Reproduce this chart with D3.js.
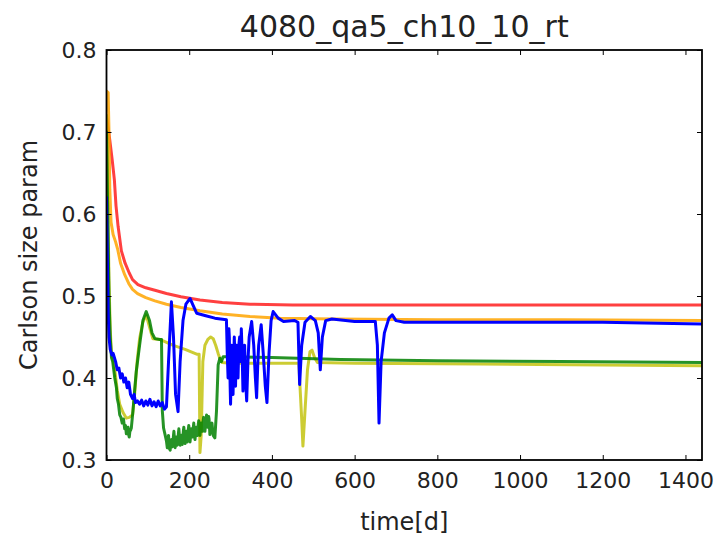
<!DOCTYPE html>
<meta charset="utf-8">
<style>
body { margin: 0; background: #fff; }
svg { display: block; font-family: "DejaVu Sans", sans-serif; }
.axis path, .axis line { fill: none; stroke: #000; }
.series { fill: none; stroke-linejoin: round; stroke-linecap: round; }
</style>
<body>
<script src="https://d3js.org/d3.v7.min.js"></script>
<script>

// chart text and ticks
var title = "4080_qa5_ch10_10_rt";
var xLabel = "time[d]";
var yLabel = "Carlson size param";
var xTicks = [0, 200, 400, 600, 800, 1000, 1200, 1400];
var yTicks = [0.3, 0.4, 0.5, 0.6, 0.7, 0.8];

// series as [day, value]
var redData = [[0,0.72],[8,0.69],[14,0.665],[19,0.642],[23,0.61],[28,0.585],[36,0.555],[45,0.54],[55,0.528],[63,0.52],[76,0.514],[95,0.51],[117,0.507],[145,0.503],[180,0.499],[226,0.495],[280,0.492],[347,0.49],[450,0.489],[700,0.489],[1440,0.489]];

var orangeData = [[0,0.75],[4,0.748],[6,0.70],[8,0.63],[11,0.59],[16,0.575],[22,0.566],[27,0.557],[34,0.54],[44,0.526],[54,0.515],[63,0.508],[75,0.503],[95,0.498],[117,0.494],[145,0.49],[180,0.486],[226,0.482],[280,0.478],[347,0.475],[420,0.473],[550,0.472],[800,0.471],[1100,0.471],[1440,0.47]];

var yellowData = [[0,0.72],[3,0.62],[6,0.52],[9,0.46],[12,0.43],[15,0.424],[20,0.41],[26,0.385],[32,0.368],[40,0.358],[48,0.351],[55,0.352],[63,0.355],[68,0.38],[74,0.42],[80,0.448],[88,0.468],[96,0.477],[104,0.462],[112,0.448],[129,0.447],[160,0.44],[190,0.435],[218,0.429],[224,0.429],[226,0.309],[229,0.33],[233,0.42],[238,0.44],[245,0.447],[252,0.45],[258,0.448],[264,0.44],[270,0.43],[274,0.424],[280,0.419],[300,0.418],[400,0.418],[465,0.418],[472,0.35],[475,0.317],[480,0.36],[486,0.41],[492,0.432],[497,0.434],[503,0.425],[510,0.419],[600,0.418],[900,0.417],[1200,0.416],[1440,0.415]];

var greenData = [[0,0.70],[3,0.60],[6,0.50],[9,0.45],[12,0.425],[15,0.42],[20,0.40],[24,0.388],[26,0.375],[29,0.368],[32,0.355],[35,0.352],[38,0.345],[41,0.35],[44,0.338],[46,0.342],[48,0.332],[50,0.338],[52,0.34],[54,0.33],[55,0.328],[57,0.337],[58,0.336],[60,0.339],[64,0.36],[68,0.385],[72,0.408],[80,0.44],[88,0.47],[96,0.481],[104,0.47],[110,0.455],[117,0.448],[129,0.447],[133,0.447],[135,0.36],[138,0.339],[142,0.33],[145,0.323],[147,0.315],[149,0.322],[150,0.33],[152,0.314],[154,0.312],[155,0.324],[157,0.325],[159,0.316],[160,0.318],[162,0.33],[163,0.335],[165,0.321],[166,0.315],[168,0.326],[169,0.328],[171,0.318],[172,0.32],[174,0.333],[175,0.338],[177,0.324],[178,0.318],[180,0.329],[181,0.33],[183,0.319],[184,0.322],[186,0.336],[187,0.34],[189,0.326],[190,0.32],[192,0.331],[193,0.335],[195,0.322],[196,0.325],[198,0.338],[199,0.342],[201,0.327],[202,0.322],[204,0.333],[205,0.338],[207,0.33],[208,0.328],[210,0.34],[211,0.345],[213,0.329],[214,0.325],[216,0.336],[217,0.34],[219,0.333],[220,0.33],[222,0.344],[223,0.348],[225,0.336],[226,0.33],[228,0.341],[229,0.345],[231,0.338],[232,0.335],[234,0.349],[235,0.352],[237,0.34],[238,0.335],[240,0.347],[242,0.355],[244,0.343],[245,0.34],[247,0.353],[248,0.35],[250,0.331],[253,0.342],[255,0.345],[258,0.33],[262,0.327],[266,0.36],[270,0.416],[274,0.424],[278,0.42],[282,0.426],[290,0.426],[300,0.426],[400,0.425],[566,0.4226],[800,0.421],[1100,0.42],[1440,0.419]];

var blueData = [[0,0.62],[2,0.55],[4,0.48],[6,0.45],[9,0.435],[13,0.428],[16,0.43],[19,0.425],[22,0.42],[26,0.41],[30,0.412],[34,0.4],[38,0.405],[42,0.395],[46,0.4],[50,0.388],[54,0.395],[58,0.38],[63,0.375],[67,0.38],[70,0.37],[75,0.372],[80,0.368],[85,0.373],[90,0.366],[95,0.372],[100,0.367],[105,0.374],[110,0.366],[115,0.371],[120,0.365],[125,0.372],[130,0.366],[135,0.37],[140,0.362],[145,0.365],[150,0.42],[157,0.493],[162,0.45],[167,0.38],[173,0.359],[178,0.42],[185,0.47],[192,0.49],[202,0.497],[210,0.488],[218,0.479],[240,0.476],[262,0.473],[290,0.471],[292,0.43],[294,0.40],[296,0.46],[297,0.45],[299,0.39],[300,0.368],[302,0.42],[303,0.44],[305,0.41],[306,0.38],[308,0.43],[309,0.45],[311,0.42],[312,0.39],[314,0.44],[315,0.43],[317,0.41],[318,0.40],[320,0.44],[322,0.45],[324,0.42],[326,0.46],[328,0.43],[330,0.384],[332,0.42],[334,0.44],[336,0.40],[339,0.372],[342,0.42],[345,0.45],[351,0.469],[356,0.44],[360,0.40],[363,0.376],[366,0.42],[368,0.44],[374,0.465],[379,0.43],[384,0.39],[388,0.37],[393,0.43],[398,0.47],[403,0.481],[415,0.473],[428,0.469],[455,0.47],[463,0.468],[467,0.392],[472,0.44],[480,0.468],[493,0.475],[505,0.47],[512,0.455],[517,0.41],[522,0.45],[530,0.47],[545,0.472],[600,0.469],[650,0.469],[655,0.44],[659,0.345],[664,0.42],[672,0.455],[683,0.473],[691,0.477],[700,0.47],[720,0.468],[900,0.468],[1200,0.468],[1300,0.467],[1440,0.466]];

var seriesList = [
  {data: redData, color: "#ff0000", alpha: 0.75},
  {data: orangeData, color: "#ffa500", alpha: 0.85},
  {data: yellowData, color: "#bfbf00", alpha: 0.8},
  {data: greenData, color: "#008000", alpha: 0.85},
  {data: blueData, color: "#0000ff", alpha: 1}
];

// plot box
var margin = {top: 50, right: 14, bottom: 78, left: 106.5};
var W = 716, H = 538;
var width = W - margin.left - margin.right;
var height = H - margin.top - margin.bottom;

var x = d3.scaleLinear().domain([0, 1440]).range([0, width]);
var y = d3.scaleLinear().domain([0.3, 0.8]).range([height, 0]);

var svg = d3.select("body").append("svg")
    .attr("width", W)
    .attr("height", H);

var g = svg.append("g")
    .attr("transform", "translate(" + margin.left + "," + margin.top + ")");

var line = d3.line()
    .x(function(d) { return x(d[0]); })
    .y(function(d) { return y(d[1]); });

g.append("clipPath").attr("id", "clip")
  .append("rect").attr("width", width).attr("height", height);

g.append("g").attr("clip-path", "url(#clip)")
  .selectAll("path")
  .data(seriesList)
  .enter().append("path")
    .attr("class", "series")
    .attr("d", function(s) { return line(s.data); })
    .attr("stroke", function(s) { return s.color; })
    .attr("stroke-opacity", function(s) { return s.alpha; })
    .attr("stroke-width", 3);

// ticks point inward, on all four sides
var tickLen = 5;
var xAxis = g.append("g").attr("class", "axis")
    .attr("transform", "translate(0," + height + ")")
    .call(d3.axisBottom(x).tickValues(xTicks).tickSize(-tickLen).tickPadding(12).tickFormat(d3.format("d")));
var xTop = g.append("g").attr("class", "axis")
    .call(d3.axisTop(x).tickValues(xTicks).tickSize(-tickLen).tickFormat(""));
var yAxis = g.append("g").attr("class", "axis")
    .call(d3.axisLeft(y).tickValues(yTicks).tickSize(-tickLen).tickPadding(10).tickFormat(d3.format(".1f")));
var yRight = g.append("g").attr("class", "axis")
    .attr("transform", "translate(" + width + ",0)")
    .call(d3.axisRight(y).tickValues(yTicks).tickSize(-tickLen).tickFormat(""));

[xAxis, xTop, yAxis, yRight].forEach(function(a) { a.select(".domain").remove(); });

g.selectAll(".axis text")
    .attr("font-family", "DejaVu Sans, sans-serif")
    .attr("font-size", "22px")
    .attr("fill", "#222");

g.append("rect")
    .attr("width", width)
    .attr("height", height)
    .attr("fill", "none")
    .attr("stroke", "#000")
    .attr("stroke-width", 1.8);

// labels
svg.append("text")
    .attr("x", margin.left + width / 2)
    .attr("y", 37)
    .attr("text-anchor", "middle")
    .attr("font-size", "30px")
    .attr("fill", "#222")
    .text(title);

svg.append("text")
    .attr("x", margin.left + width / 2)
    .attr("y", 530)
    .attr("text-anchor", "middle")
    .attr("font-size", "24px")
    .attr("fill", "#222")
    .text(xLabel);

svg.append("text")
    .attr("transform", "translate(37," + (margin.top + height / 2) + ") rotate(-90)")
    .attr("text-anchor", "middle")
    .attr("font-size", "24px")
    .attr("fill", "#222")
    .text(yLabel);

</script>
</body>
